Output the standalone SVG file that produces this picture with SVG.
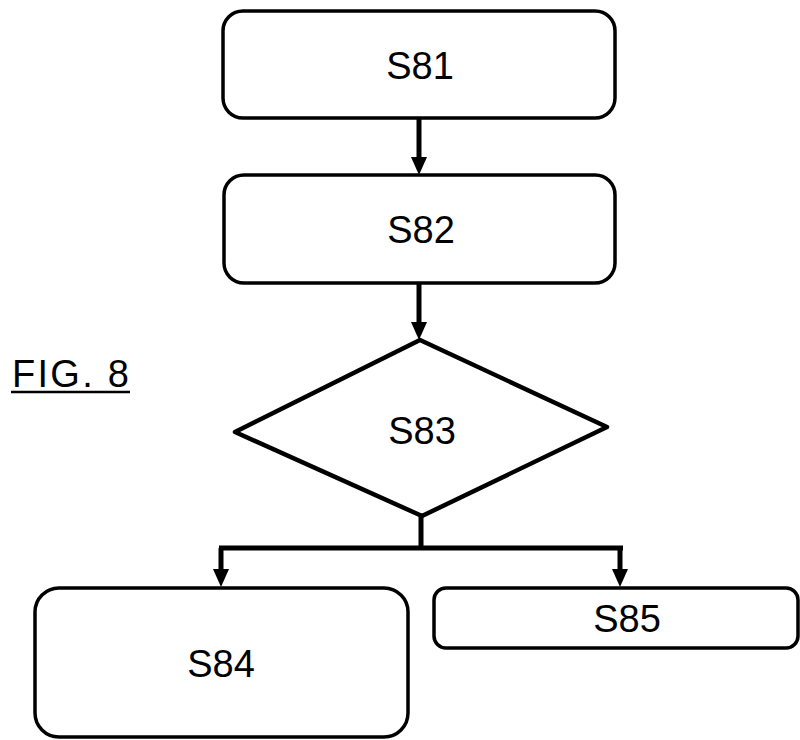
<svg xmlns="http://www.w3.org/2000/svg" width="800" height="740" viewBox="0 0 800 740">
<style>
.box{fill:#fff;stroke:#000;stroke-width:3.5}
.dia{fill:#fff;stroke:#000;stroke-width:4.5;stroke-linejoin:round}
.lbl{font-family:"Liberation Sans",Arial,sans-serif;font-size:38px;fill:#000;text-anchor:middle}
.con{fill:none;stroke:#000;stroke-width:5}
</style>
<rect width="800" height="740" fill="#fff"/>
<g id="fig-label">
<text x="12" y="387" font-family="'Liberation Sans',Arial,sans-serif" font-size="38" fill="#000" textLength="117" lengthAdjust="spacing">FIG. 8</text>
<line x1="11" y1="392" x2="130" y2="392" stroke="#000" stroke-width="2.5"/>
</g>
<g id="connectors">
<path class="con" d="M419,118 V158" />
<path d="M411,157 L427,157 L419,175 Z"/>
<path class="con" d="M419,283 V323"/>
<path d="M411,322 L427,322 L419,340 Z"/>
<path class="con" d="M421,515 V548 M219,548 H623 M221,548 V570 M620,548 V570"/>
<path d="M213,569 L229,569 L221,587 Z"/>
<path d="M612,569 L628,569 L620,587 Z"/>
</g>
<g id="S81">
<rect class="box" x="223" y="11" width="392" height="107" rx="20"/>
<text class="lbl" x="420" y="79">S81</text>
</g>
<g id="S82">
<rect class="box" x="224" y="175" width="391" height="108" rx="20"/>
<text class="lbl" x="421" y="243">S82</text>
</g>
<g id="S83">
<polygon class="dia" points="420,340 607,427 422,516 235,432"/>
<text class="lbl" x="422" y="444">S83</text>
</g>
<g id="S84">
<rect class="box" x="35" y="588" width="373" height="149" rx="24"/>
<text class="lbl" x="221" y="677">S84</text>
</g>
<g id="S85">
<rect class="box" x="434" y="588" width="364" height="60" rx="12"/>
<text class="lbl" x="627" y="632">S85</text>
</g>
</svg>
